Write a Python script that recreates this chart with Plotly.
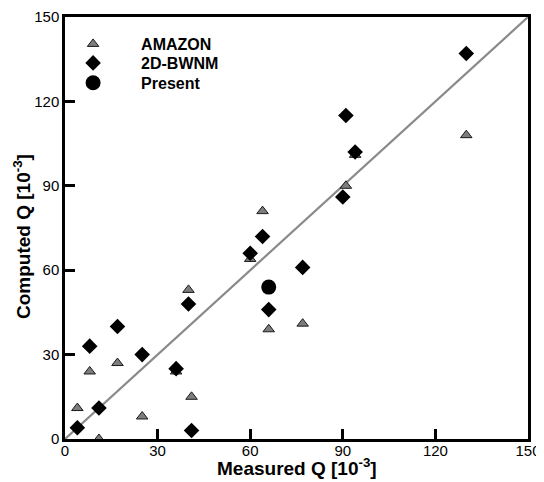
import plotly.graph_objects as go

# AMAZON
amazon_x = [4, 8, 11, 17, 25, 36, 40, 41, 60, 64, 66, 77, 91, 94, 130]
amazon_y = [11, 24, 0, 27, 8, 24, 53, 15, 64, 81, 39, 41, 90, 101, 108]
# 2D-BWNM
bwnm_x = [4, 8, 11, 17, 25, 36, 40, 41, 60, 64, 66, 77, 90, 91, 94, 130]
bwnm_y = [4, 33, 11, 40, 30, 25, 48, 3, 66, 72, 46, 61, 86, 115, 102, 137]
# Present
present_x = [66]
present_y = [54]
# Perfect agreement line
line_x = [0, 150]
line_y = [0, 150]
ticks = [0, 30, 60, 90, 120, 150]

font = "Liberation Sans, Arial, sans-serif"

fig = go.Figure()
fig.add_trace(go.Scatter(x=line_x, y=line_y, mode="lines", showlegend=False,
                         line=dict(color="#8a8a8a", width=2.2)))
fig.add_trace(go.Scatter(x=amazon_x, y=amazon_y, mode="markers", name="AMAZON",
                         legend="legend",
                         marker=dict(symbol="triangle-up", size=10, color="#7d7d7d",
                                     line=dict(color="#1a1a1a", width=1))))
fig.add_trace(go.Scatter(x=bwnm_x, y=bwnm_y, mode="markers", name="2D-BWNM",
                         legend="legend2",
                         marker=dict(symbol="diamond", size=12, color="black")))
fig.add_trace(go.Scatter(x=present_x, y=present_y, mode="markers", name="Present",
                         legend="legend3",
                         marker=dict(symbol="circle", size=15, color="black")))

axis_common = dict(range=[0, 150], tickvals=ticks, ticks="inside", ticklen=10,
                   tickwidth=2.5, tickcolor="black", showline=True, linecolor="black",
                   linewidth=2.5, mirror=True, showgrid=False, zeroline=False,
                   automargin=False,
                   tickfont=dict(family=font, size=15, color="black"))

leg_common = dict(x=-0.043, xanchor="left", yanchor="middle",
                  font=dict(family=font, size=16, color="black", weight="bold"),
                  bgcolor="rgba(0,0,0,0)", itemwidth=86, borderwidth=0)

# page body has an 8px margin; figure sized so the plot lands where the reference has it
fig.update_layout(
    width=536, height=474,
    margin=dict(l=57, r=16, t=9, b=43),
    paper_bgcolor="white", plot_bgcolor="white",
    xaxis=dict(**axis_common, ticklabelstandoff=-4),
    yaxis=dict(**axis_common),
    legend=dict(**leg_common, y=0.936),
    legend2=dict(**leg_common, y=0.891),
    legend3=dict(**leg_common, y=0.844),
    showlegend=True,
    annotations=[
        dict(text="<b>Measured Q [10<sup>-3</sup>]</b>", xref="paper", yref="paper",
             x=0.5, y=0, xanchor="center", yanchor="middle", yshift=-28,
             showarrow=False, font=dict(family=font, size=19, color="black")),
        dict(text="<b>Computed Q [10<sup>-3</sup>]</b>", xref="paper", yref="paper",
             x=0, y=0.5, xanchor="center", yanchor="middle", xshift=-43, yshift=-9,
             textangle=-90, showarrow=False,
             font=dict(family=font, size=19, color="black")),
    ],
)

fig.write_html("out.html")
